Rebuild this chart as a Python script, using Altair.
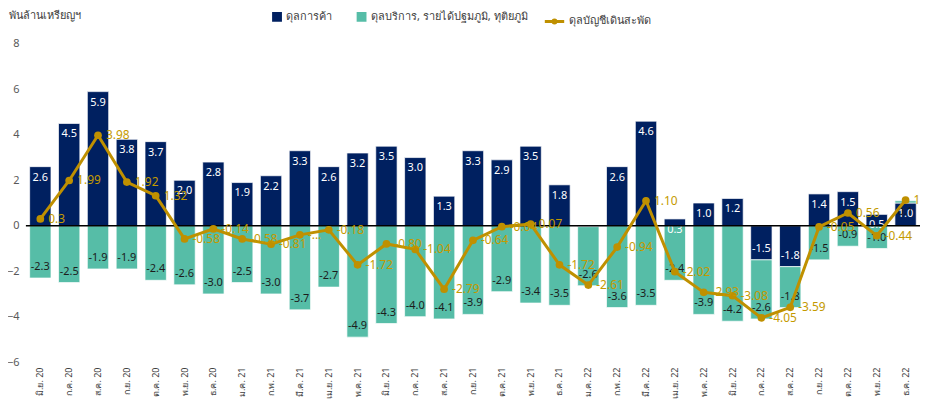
import altair as alt
import pandas as pd

months = ["มิ.ย. 20", "ก.ค. 20", "ส.ค. 20", "ก.ย. 20", "ต.ค. 20", "พ.ย. 20", "ธ.ค. 20",
          "ม.ค. 21", "ก.พ. 21", "มี.ค. 21", "เม.ย. 21", "พ.ค. 21", "มิ.ย. 21", "ก.ค. 21",
          "ส.ค. 21", "ก.ย. 21", "ต.ค. 21", "พ.ย. 21", "ธ.ค. 21", "ม.ค. 22", "ก.พ. 22",
          "มี.ค. 22", "เม.ย. 22", "พ.ค. 22", "มิ.ย. 22", "ก.ค. 22", "ส.ค. 22", "ก.ย. 22",
          "ต.ค. 22", "พ.ย. 22", "ธ.ค. 22"]

trade = [2.6, 4.5, 5.9, 3.8, 3.7, 2.0, 2.8, 1.9, 2.2, 3.3, 2.6, 3.2, 3.5, 3.0, 1.3, 3.3,
         2.9, 3.5, 1.8, -0.04, 2.6, 4.6, 0.3, 1.0, 1.2, -1.5, -1.8, 1.4, 1.5, 0.5, 1.0]

services = [-2.3, -2.5, -1.9, -1.9, -2.4, -2.6, -3.0, -2.5, -3.0, -3.7, -2.7, -4.9, -4.3,
            -4.0, -4.1, -3.9, -2.9, -3.4, -3.5, -2.6, -3.6, -3.5, -2.4, -3.9, -4.2, -2.6,
            -1.8, -1.5, -0.9, -1.0, 0.1]

current = [0.30, 1.99, 3.98, 1.92, 1.32, -0.58, -0.14, -0.58, -0.81, -0.40, -0.18, -1.72,
           -0.80, -1.04, -2.79, -0.64, -0.04, 0.07, -1.72, -2.61, -0.94, 1.10, -2.02, -2.93,
           -3.08, -4.05, -3.59, -0.05, 0.56, -0.44, 1.13]

current_labels = ["0.3", "1.99", "3.98", "1.92", "1.32", "-0.58", "-0.14", "-0.58", "-0.81",
                  "-...", "-0.18", "-1.72", "-0.80", "-1.04", "-2.79", "-0.64", "-0.04", "0.07",
                  "-1.72", "-2.61", "-0.94", "1.10", "-2.02", "-2.93", "-3.08", "-4.05", "-3.59",
                  "-0.05", "0.56", "-0.44", "1.13"]

bar_series = ["ดุลการค้า", "ดุลบริการ, รายได้ปฐมภูมิ, ทุติยภูมิ"]
bar_colors = ["#002060", "#56BDA7"]
line_series = ["ดุลบัญชีเดินสะพัด"]
line_colors = ["#BF9000"]
y_ticks = [-6, -4, -2, 0, 2, 4, 6, 8]

FONT = "Noto Sans"

rows = []
for i, m in enumerate(months):
    t, s = trade[i], services[i]
    rows.append({"month": m, "series": bar_series[0], "value": t, "order": 0, "end": t})
    s_end = s + (t if (t >= 0) == (s >= 0) else 0)
    rows.append({"month": m, "series": bar_series[1], "value": s, "order": 1, "end": s_end})
bars_df = pd.DataFrame(rows)
bars_df["label"] = bars_df["value"].map(lambda v: f"{abs(v):.1f}" if abs(v) < 0.05 else f"{v:.1f}")

line_df = pd.DataFrame({"month": months, "series": line_series[0],
                        "value": current, "label": current_labels})

x_enc = alt.X("month:N", sort=months,
              scale=alt.Scale(paddingInner=0.26, paddingOuter=0.13),
              axis=alt.Axis(title=None, labelAngle=-90, ticks=False, domain=False,
                            labelPadding=5, labelFontSize=9, labelColor="#404040",
                            labelFont=FONT))

bar_legend = alt.Legend(title=None, orient="none", legendX=246, legendY=-34,
                        direction="horizontal", columns=2, padding=0,
                        symbolType="square", symbolSize=130, labelFontSize=11,
                        labelColor="#404040", labelFont=FONT, labelOffset=3,
                        columnPadding=20, labelLimit=300)

line_legend = alt.Legend(title=None, orient="none", legendX=520, legendY=-34,
                         direction="horizontal", padding=0,
                         symbolType="M-1,0L1,0M-0.15,0a0.15,0.15 0 1,0 0.3,0a0.15,0.15 0 1,0 -0.3,0",
                         symbolSize=380, symbolStrokeWidth=3, labelFontSize=11,
                         labelColor="#404040", labelFont=FONT, labelOffset=3,
                         labelLimit=300)

bars = alt.Chart(bars_df).mark_bar(stroke="white", strokeWidth=0.7).encode(
    x=x_enc,
    y=alt.Y("value:Q", stack="zero",
            scale=alt.Scale(domain=[-6, 8], nice=False, zero=False),
            axis=alt.Axis(values=y_ticks, grid=False, domain=False, ticks=False,
                          labelPadding=7, labelFontSize=11, labelColor="#595959",
                          labelFont=FONT,
                          title="พันล้านเหรียญฯ", titleAngle=0, titleX=-17, titleY=-29,
                          titleAlign="left", titleBaseline="middle",
                          titleFontWeight="normal", titleFontSize=11,
                          titleColor="#404040", titleFont=FONT)),
    color=alt.Color("series:N", scale=alt.Scale(domain=bar_series, range=bar_colors),
                    legend=bar_legend),
    order=alt.Order("order:Q"),
)

bar_text_color = alt.condition(f"datum.series === '{bar_series[0]}'",
                               alt.value("white"), alt.value("#1c1c1c"))

bar_text_pos = alt.Chart(bars_df).transform_filter("datum.end >= 0").mark_text(
    dy=11, baseline="middle", align="center", fontSize=11, font=FONT
).encode(x=alt.X("month:N", sort=months), y="end:Q", text="label:N", color=bar_text_color)

bar_text_neg = alt.Chart(bars_df).transform_filter("datum.end < 0").mark_text(
    dy=-11, baseline="middle", align="center", fontSize=11, font=FONT
).encode(x=alt.X("month:N", sort=months), y="end:Q", text="label:N", color=bar_text_color)

zero_rule = alt.Chart(pd.DataFrame({"z": [0]})).mark_rule(
    color="black", strokeWidth=1.3).encode(y="z:Q")

line = alt.Chart(line_df).mark_line(strokeWidth=3).encode(
    x=alt.X("month:N", sort=months), y="value:Q",
    stroke=alt.Stroke("series:N", scale=alt.Scale(domain=line_series, range=line_colors),
                      legend=line_legend))

points = alt.Chart(line_df).mark_point(filled=True, size=60, opacity=1, color=line_colors[0]).encode(
    x=alt.X("month:N", sort=months), y="value:Q")

line_text = alt.Chart(line_df).mark_text(
    align="left", baseline="middle", dx=8, fontSize=12, font=FONT, color="#C49A00"
).encode(x=alt.X("month:N", sort=months), y="value:Q", text="label:N")

chart = alt.layer(bars, bar_text_pos, bar_text_neg, zero_rule, line, points, line_text).properties(
    width=899, height=320,
    autosize=alt.AutoSizeParams(type="none"),
    padding={"left": 18, "top": 35, "right": 0, "bottom": 40},
).configure_view(stroke=None)

chart.save("out.html", embed_options={"renderer": "svg", "actions": False})
